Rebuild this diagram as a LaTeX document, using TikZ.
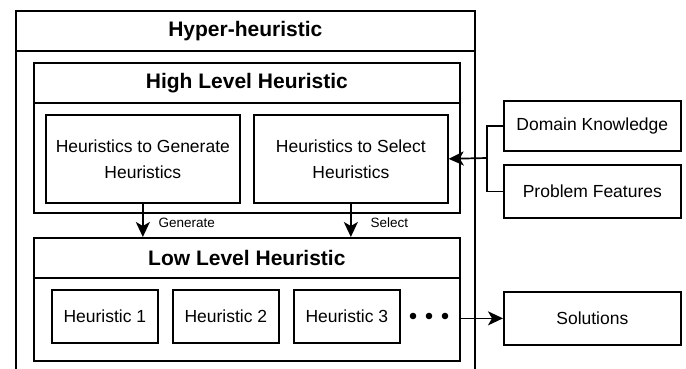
\documentclass[tikz,border=0pt]{standalone}
\usepackage{fontspec}
\setmainfont{Liberation Sans}
\usetikzlibrary{arrows.meta,positioning}

\begin{document}
\begin{tikzpicture}[x=1pt,y=-1pt,
  box/.style={draw, line width=1.7pt, inner sep=2pt, align=center},
  hdr/.style={box, font=\bfseries\fontsize{21}{25}\selectfont},
  txt/.style={font=\fontsize{17.5}{26}\selectfont},
  lbl/.style={font=\fontsize{13.5}{16}\selectfont, anchor=west},
  arr/.style={-{Stealth[length=15pt,width=14pt,inset=4pt]}, line width=1.7pt}]
\clip (0,0) rectangle (686,369);
% Hyper-heuristic
\node[box, minimum width=459pt, minimum height=420pt, anchor=north west] (HY) at (15,10) {};
\node[hdr, minimum width=459pt, minimum height=40pt, anchor=north west] (HYt) at (15,10) {Hyper-heuristic};
% High level heuristic
\node[box, minimum width=426pt, minimum height=150pt, anchor=north west] (HL) at (33,62) {};
\node[hdr, minimum width=426pt, minimum height=40pt, anchor=north west] (HLt) at (33,62) {High Level Heuristic};
\node[box, txt, minimum width=194pt, minimum height=88pt, anchor=north west] (GEN) at (45,114) {Heuristics to Generate\\Heuristics};
\node[box, txt, minimum width=194pt, minimum height=88pt, anchor=north west] (SEL) at (253,114) {Heuristics to Select\\Heuristics};
% Low level heuristic
\node[box, minimum width=426pt, minimum height=123pt, anchor=north west] (LL) at (33,237) {};
\node[hdr, minimum width=426pt, minimum height=40pt, anchor=north west] (LLt) at (33,237) {Low Level Heuristic};
\node[box, txt, minimum width=106pt, minimum height=53pt, anchor=north west] (H1) at (51,289) {Heuristic 1};
\node[box, txt, minimum width=106pt, minimum height=53pt, anchor=north west] (H2) at (172,289) {Heuristic 2};
\node[box, txt, minimum width=106pt, minimum height=53pt, anchor=north west] (H3) at (293,289) {Heuristic 3};
\foreach \x in {413,429,445} \fill (\x,316) circle (3.3pt);
% inputs and outputs
\node[box, txt, minimum width=177pt, minimum height=50pt, anchor=north west] (DK) at (503,100) {Domain Knowledge};
\node[box, txt, minimum width=177pt, minimum height=53pt, anchor=north west] (PF) at (503,164) {Problem Features};
\node[box, txt, minimum width=177pt, minimum height=53pt, anchor=north west] (SOL) at (503,291) {Solutions};
% connectors
\draw[arr] (GEN.south) -- (GEN.south |- LL.north);
\draw[arr] (SEL.south) -- (SEL.south |- LL.north);
\node[lbl] (GENl) at (155,223) {Generate};
\node[lbl] (SELl) at (367,223) {Select};
\coordinate (J) at (487,158);
\draw[line width=1.7pt] (DK.west) -| (J) |- (PF.west);
\draw[arr] (J) -- (SEL.east);
\draw[arr] (SOL.west -| LL.east) -- (SOL.west);
\end{tikzpicture}
\end{document}
